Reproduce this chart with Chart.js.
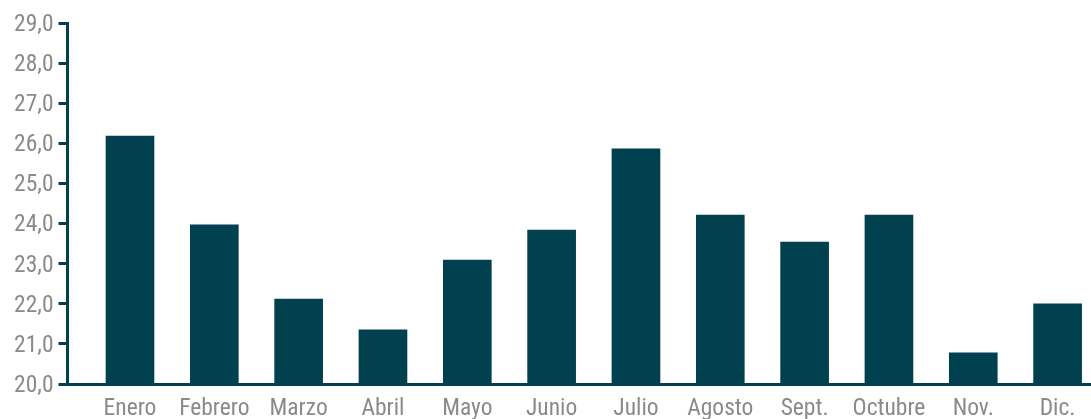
<!DOCTYPE html>
<html>
<head>
<meta charset="utf-8">
<script src="https://cdn.jsdelivr.net/npm/chart.js@4/dist/chart.umd.min.js"></script>
<style>
  html, body { margin: 0; padding: 0; background: #ffffff; overflow: hidden; }
  #wrap { width: 1091px; height: 419px; position: relative; }
</style>
</head>
<body>
<div id="wrap"><canvas id="c"></canvas></div>
<script>
const months = ['Enero', 'Febrero', 'Marzo', 'Abril', 'Mayo', 'Junio', 'Julio', 'Agosto', 'Sept.', 'Octubre', 'Nov.', 'Dic.'];
const values = [26.18, 23.97, 22.12, 21.35, 23.09, 23.84, 25.86, 24.21, 23.54, 24.21, 20.78, 22.00];
const yTickValues = [20, 21, 22, 23, 24, 25, 26, 27, 28, 29];

const TEAL = '#01404f';
const GRAY = '#8a8a8a';
const FONT = "'Roboto Condensed', 'DejaVu Sans Condensed', sans-serif";

const points = values.map((v, i) => ({ x: i, y: v }));

new Chart(document.getElementById('c'), {
  type: 'bar',
  data: {
    datasets: [{
      data: points,
      backgroundColor: TEAL,
      borderWidth: 0,
      barThickness: 48
    }]
  },
  options: {
    responsive: true,
    maintainAspectRatio: false,
    animation: false,
    layout: { padding: { top: 23, right: 0, left: 0, bottom: 0 } },
    plugins: { legend: { display: false }, tooltip: { enabled: false } },
    scales: {
      x: {
        type: 'linear',
        min: -0.741,
        max: 11.396,
        offset: false,
        afterFit: (s) => { s.height = 35; },
        afterBuildTicks: (s) => { s.ticks = months.map((m, i) => ({ value: i })); },
        ticks: {
          autoSkip: false,
          maxRotation: 0,
          minRotation: 0,
          padding: 11,
          color: GRAY,
          font: { family: FONT, size: 23.5 },
          callback: (v) => months[v] !== undefined ? months[v] : ''
        },
        grid: { display: false, drawTicks: false },
        border: { display: true, color: TEAL, width: 3 }
      },
      y: {
        min: 20,
        max: 29,
        afterFit: (s) => { s.width = 67.5; },
        afterBuildTicks: (s) => { s.ticks = yTickValues.map(v => ({ value: v })); },
        ticks: {
          padding: 5,
          labelOffset: 2,
          color: GRAY,
          font: { family: FONT, size: 23.5 },
          callback: (v) => Number(v).toFixed(1).replace('.', ',')
        },
        grid: {
          drawOnChartArea: false,
          drawTicks: true,
          tickLength: 9,
          tickColor: TEAL,
          tickWidth: 3
        },
        border: { display: true, color: TEAL, width: 3 }
      }
    }
  }
});
</script>
</body>
</html>
